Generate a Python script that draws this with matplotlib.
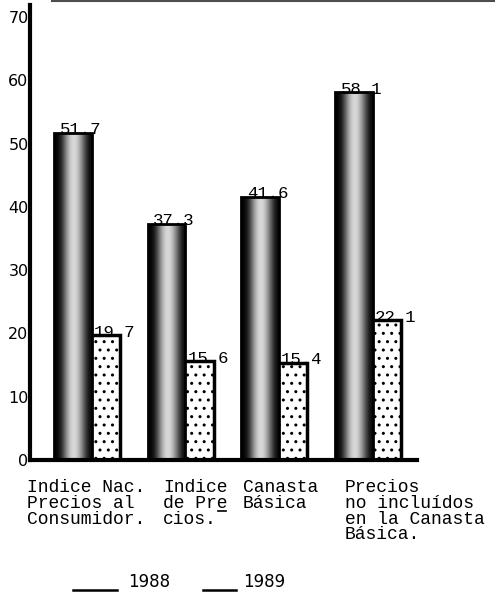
import numpy as np
from matplotlib import pyplot as plt

# values
categories = [
    ["Indice Nac.", "Precios al", "Consumidor."],
    ["Indice", "de Pre", "cios."],
    ["Canasta", "Básica"],
    ["Precios", "no incluídos", "en la Canasta", "Básica."],
]
vals_1988 = [51.7, 37.3, 41.6, 58.1]
vals_1989 = [19.7, 15.6, 15.4, 22.1]
years = ["1988", "1989"]
yticks = [0, 10, 20, 30, 40, 50, 60, 70]

W, H = 495, 593
fig = plt.figure(figsize=(W / 100, H / 100), dpi=100)
ax = fig.add_axes([30 / W, (H - 460) / H, 387 / W, 455 / H])

x = np.arange(len(vals_1988))
b88 = ax.bar(x - 0.167, vals_1988, width=0.40, color='none', edgecolor='black',
             linewidth=2.0, zorder=3)
b89 = ax.bar(x + 0.167, vals_1989, width=0.34, color='white', edgecolor='black',
             linewidth=2.5, hatch='..', zorder=2)

# dark-edged, light-centred shading for the 1988 bars
profile = np.array([[0.0, 0.12, 0.5, 0.82, 0.88, 0.65, 0.3, 0.03]])
for p in b88:
    im = ax.imshow(profile, extent=[p.get_x(), p.get_x() + p.get_width(), 0, p.get_height()],
                   aspect='auto', cmap='gray', vmin=0, vmax=1, interpolation='bicubic', zorder=2.5)
    im.set_clip_path(p)

mono = 'Liberation Mono'
for p, v in zip(list(b88) + list(b89), vals_1988 + vals_1989):
    ax.annotate(f"{v:.1f}", (p.get_x(), v), xytext=(4, -1), textcoords='offset points',
                fontsize=12.5, family=mono, va='baseline', ha='left', zorder=5)

ax.set_xlim(-0.624, 3.506)
ax.set_ylim(0, 71.9)
ax.set_xticks([])
ax.set_yticks(yticks)
ax.set_yticklabels([str(t) for t in yticks], fontsize=11.5, family='DejaVu Sans')
ax.tick_params(axis='y', length=0, pad=1)
ax.spines['right'].set_visible(False)
ax.spines['top'].set_visible(False)
ax.spines['left'].set_linewidth(3)
ax.spines['bottom'].set_linewidth(3)

# category labels under the bars (typewritten)
col_x = [27, 163, 243, 345]
for cx, lines in zip(col_x, categories):
    for i, line in enumerate(lines):
        fig.text(cx / W, 1 - (488 + 15.5 * i) / H, line, fontsize=13, family=mono,
                 va='center', ha='left')
# hyphenation underline under the "e" of "Pre"
fig.add_artist(plt.Line2D([218 / W, 226 / W], [1 - 511 / H] * 2, color='black', linewidth=1.2))

# legend as typed text
fig.add_artist(plt.Line2D([73 / W, 117 / W], [1 - 590 / H] * 2, color='black', linewidth=1.8))
fig.text(128 / W, 1 - 582 / H, years[0], fontsize=12, family='DejaVu Sans', va='center')
fig.add_artist(plt.Line2D([203 / W, 236 / W], [1 - 590 / H] * 2, color='black', linewidth=1.8))
fig.text(243 / W, 1 - 582 / H, years[1], fontsize=12, family='DejaVu Sans', va='center')

# scan edge line at the top
fig.add_artist(plt.Line2D([52 / W, 1], [0.999, 0.999], color='0.3', linewidth=1.5))

fig.savefig("out.png", dpi=100)
